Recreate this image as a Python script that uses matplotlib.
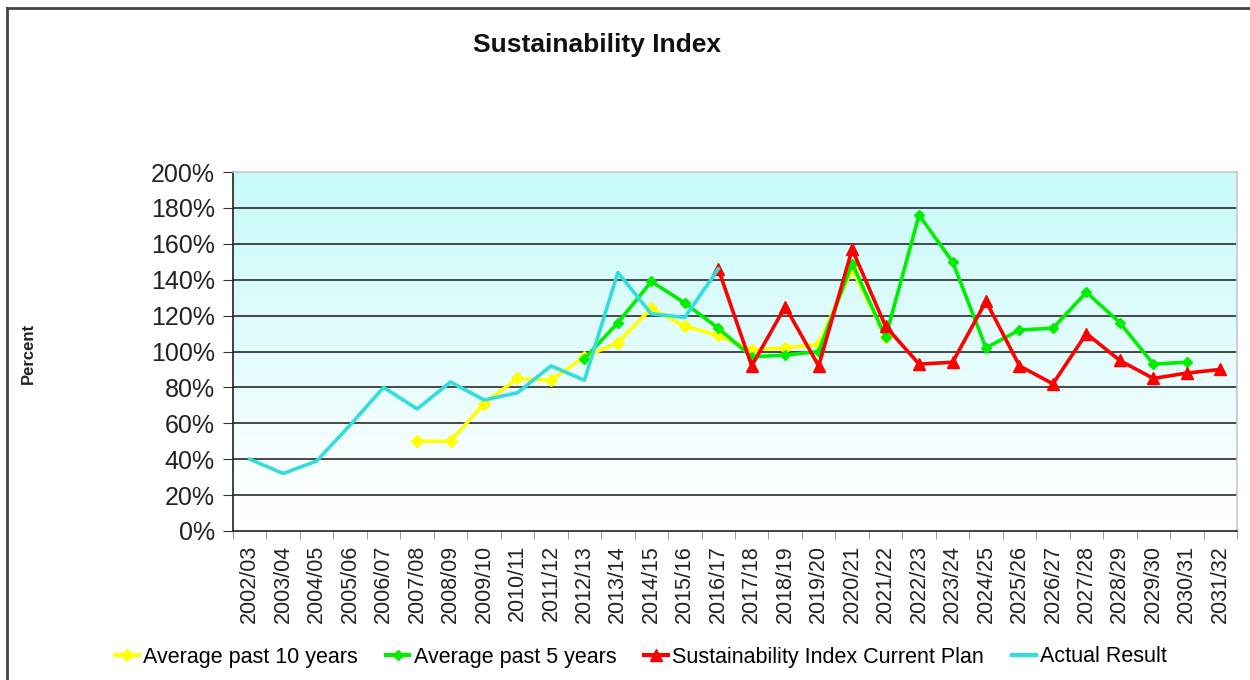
import numpy as np
import matplotlib
matplotlib.use("Agg")
import matplotlib.pyplot as plt
from matplotlib.colors import LinearSegmentedColormap
from matplotlib.lines import Line2D

plt.rcParams['font.family'] = ['Liberation Sans', 'DejaVu Sans']

categories = ["2002/03", "2003/04", "2004/05", "2005/06", "2006/07", "2007/08",
              "2008/09", "2009/10", "2010/11", "2011/12", "2012/13", "2013/14",
              "2014/15", "2015/16", "2016/17", "2017/18", "2018/19", "2019/20",
              "2020/21", "2021/22", "2022/23", "2023/24", "2024/25", "2025/26",
              "2026/27", "2027/28", "2028/29", "2029/30", "2030/31", "2031/32"]

nan = np.nan
avg10 = [nan, nan, nan, nan, nan, 50, 50, 71, 85, 84, 97, 105, 124, 114, 109,
         101, 102, 104, 146, 108, nan, nan, nan, nan, nan, nan, nan, nan, nan, nan]
avg5 = [nan, nan, nan, nan, nan, nan, nan, nan, nan, nan, 96, 116, 139, 127, 113,
        97, 98, 100, 149, 108, 176, 150, 102, 112, 113, 133, 116, 93, 94, nan]
plan = [nan, nan, nan, nan, nan, nan, nan, nan, nan, nan, nan, nan, nan, nan, 146,
        92, 125, 92, 157, 114, 93, 94, 128, 92, 82, 110, 95, 85, 88, 90]
actual = [40, 32, 39, 59, 80, 68, 83, 73, 77, 92, 84, 144, 121, 119, 146,
          nan, nan, nan, nan, nan, nan, nan, nan, nan, nan, nan, nan, nan, nan, nan]

series_names = ["Average past 10 years", "Average past 5 years",
                "Sustainability Index Current Plan", "Actual Result"]
yticks = [0, 20, 40, 60, 80, 100, 120, 140, 160, 180, 200]
ytick_labels = [f"{v}%" for v in yticks]

fig = plt.figure(figsize=(12.5, 6.8), dpi=100)
ax = fig.add_axes([233 / 1250, 1 - 531 / 680, (1237 - 233) / 1250, (531 - 172) / 680])

x = np.arange(len(categories))
ax.set_xlim(-0.5, len(categories) - 0.5)
ax.set_ylim(0, 200)

# gradient background
cmap = LinearSegmentedColormap.from_list(
    "bg", [(0.0, "#ffffff"), (0.12, "#fcffff"), (0.35, "#ecfdfd"), (1.0, "#c8fafa")])
grad = np.linspace(0, 1, 256).reshape(-1, 1)
ax.imshow(grad, aspect='auto', cmap=cmap, origin='lower',
          extent=[0, 1, 0, 1], transform=ax.transAxes, zorder=0)

for v in yticks[1:-1]:
    ax.axhline(v, color='#3a3a3a', lw=1.3, zorder=1)

ax.plot(x, avg10, color='#ffff00', lw=2.6, marker='D', ms=6, zorder=3)
ax.plot(x, avg5, color='#00ee00', lw=2.6, marker='D', ms=5, zorder=4)
ax.plot(x, plan, color='#ff0000', lw=2.6, marker='^', ms=8, zorder=5)
ax.plot(x, actual, color='#33dddd', lw=2.6, zorder=6)

ax.set_yticks(yticks)
ax.set_yticklabels(ytick_labels, fontsize=18, color='#222222')
ax.set_xticks(x)
ax.set_xticklabels(categories, rotation=90, fontsize=15.5, color='#222222')
ax.set_xticks(np.arange(len(categories) + 1) - 0.5, minor=True)
ax.tick_params(axis='x', which='major', length=0, pad=10)
ax.tick_params(axis='x', which='minor', length=6, color='#888888', direction='out')
ax.tick_params(axis='y', length=7, color='#333333', direction='out', pad=6)

for side in ['left', 'bottom']:
    ax.spines[side].set_color('#222222')
    ax.spines[side].set_linewidth(1.2)
for side in ['top', 'right']:
    ax.spines[side].set_color('#c8c8c8')
    ax.spines[side].set_linewidth(1.2)

fig.text(597 / 1250, 1 - 45 / 680, "Sustainability Index", fontsize=19,
         fontweight='bold', ha='center', va='center', color='#111111')
fig.text(28 / 1250, 1 - 353 / 680, "Percent", fontsize=12, fontweight='bold',
         rotation=90, ha='center', va='center', color='#222222')

handles = [
    Line2D([], [], color='#ffff00', lw=3, marker='D', ms=6),
    Line2D([], [], color='#00ee00', lw=3, marker='D', ms=5),
    Line2D([], [], color='#ff0000', lw=3, marker='^', ms=8),
    Line2D([], [], color='#33dddd', lw=3),
]
fig.legend(handles, series_names, loc='center', bbox_to_anchor=(641 / 1250, 1 - 657 / 680),
           ncol=4, frameon=False, fontsize=15.5, handlelength=1.1, handletextpad=0.2,
           columnspacing=1.3, borderaxespad=0)

# outer frame (top and left visible)
fig.add_artist(Line2D([7 / 1250, 7 / 1250], [0, 1 - 8 / 680], color='#444444', lw=2,
                      transform=fig.transFigure))
fig.add_artist(Line2D([7 / 1250, 1], [1 - 8 / 680, 1 - 8 / 680], color='#444444', lw=2,
                      transform=fig.transFigure))

fig.savefig("out.png", dpi=100)
